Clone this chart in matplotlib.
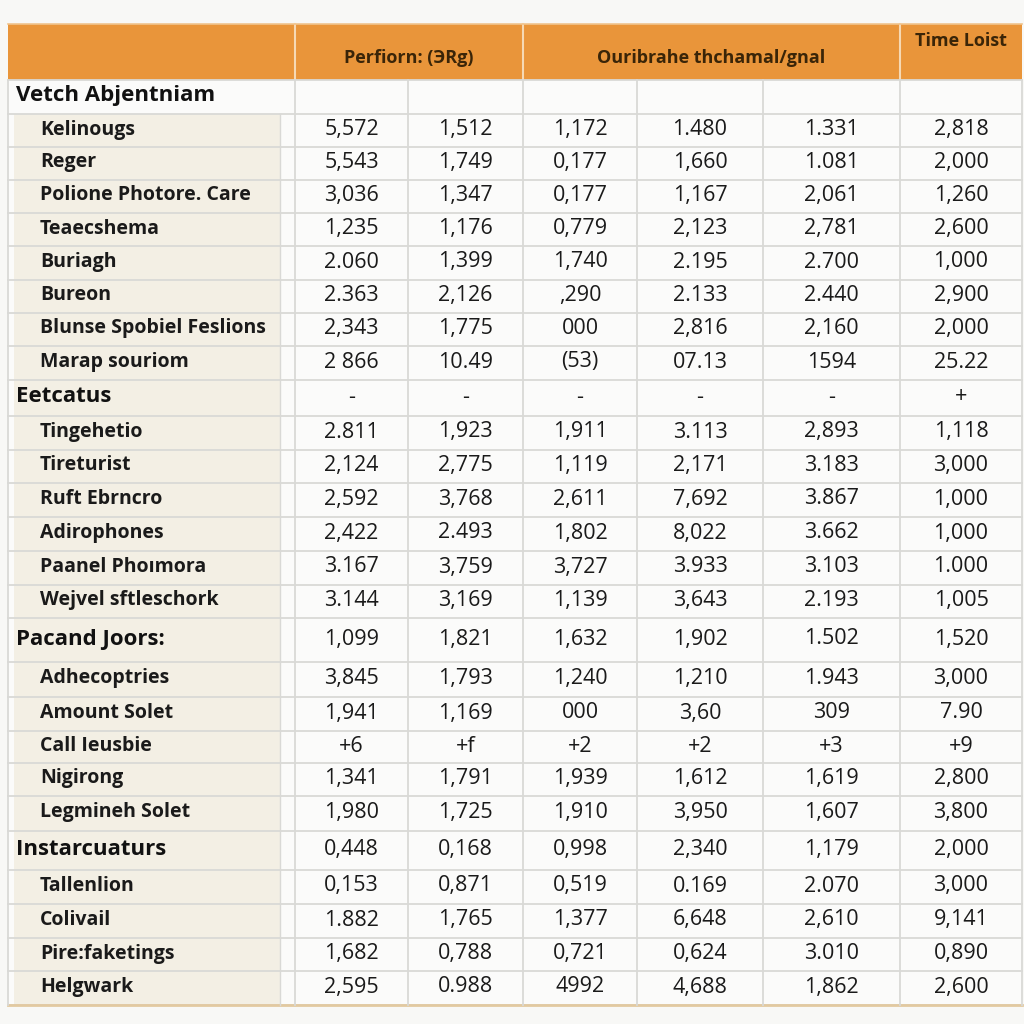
import matplotlib.pyplot as plt
from matplotlib.patches import Rectangle

# header groups
header_labels = ["Perfiorn: (ЭRg)", "Ouribrahe thchamal/gnal", "Time Loist"]

# row labels, True = section heading
row_labels = [
    ("Vetch Abjentniam", True),
    ("Kelinougs", False),
    ("Reger", False),
    ("Polione Photore. Care", False),
    ("Teaecshema", False),
    ("Buriagh", False),
    ("Bureon", False),
    ("Blunse Spobiel Feslions", False),
    ("Marap souriom", False),
    ("Eetcatus", True),
    ("Tingehetio", False),
    ("Tireturist", False),
    ("Ruft Ebrncro", False),
    ("Adirophones", False),
    ("Paanel Phoımora", False),
    ("Wejvel sftleschork", False),
    ("Pacand Joors:", True),
    ("Adhecoptries", False),
    ("Amount Solet", False),
    ("Call Ieusbie", False),
    ("Nigirong", False),
    ("Legmineh Solet", False),
    ("Instarcuaturs", True),
    ("Tallenlion", False),
    ("Colivail", False),
    ("Pire:faketings", False),
    ("Helgwark", False),
]

# cell values, one list per row
values = [
    ["", "", "", "", "", ""],
    ["5,572", "1,512", "1,172", "1.480", "1.331", "2,818"],
    ["5,543", "1,749", "0,177", "1,660", "1.081", "2,000"],
    ["3,036", "1,347", "0,177", "1,167", "2,061", "1,260"],
    ["1,235", "1,176", "0,779", "2,123", "2,781", "2,600"],
    ["2.060", "1,399", "1,740", "2.195", "2.700", "1,000"],
    ["2.363", "2,126", ",290", "2.133", "2.440", "2,900"],
    ["2,343", "1,775", "000", "2,816", "2,160", "2,000"],
    ["2 866", "10.49", "(53)", "07.13", "1594", "25.22"],
    ["-", "-", "-", "-", "-", "+"],
    ["2.811", "1,923", "1,911", "3.113", "2,893", "1,118"],
    ["2,124", "2,775", "1,119", "2,171", "3.183", "3,000"],
    ["2,592", "3,768", "2,611", "7,692", "3.867", "1,000"],
    ["2,422", "2.493", "1,802", "8,022", "3.662", "1,000"],
    ["3.167", "3,759", "3,727", "3.933", "3.103", "1.000"],
    ["3.144", "3,169", "1,139", "3,643", "2.193", "1,005"],
    ["1,099", "1,821", "1,632", "1,902", "1.502", "1,520"],
    ["3,845", "1,793", "1,240", "1,210", "1.943", "3,000"],
    ["1,941", "1,169", "000", "3,60", "309", "7.90"],
    ["+6", "+f", "+2", "+2", "+3", "+9"],
    ["1,341", "1,791", "1,939", "1,612", "1,619", "2,800"],
    ["1,980", "1,725", "1,910", "3,950", "1,607", "3,800"],
    ["0,448", "0,168", "0,998", "2,340", "1,179", "2,000"],
    ["0,153", "0,871", "0,519", "0.169", "2.070", "3,000"],
    ["1.882", "1,765", "1,377", "6,648", "2,610", "9,141"],
    ["1,682", "0,788", "0,721", "0,624", "3.010", "0,890"],
    ["2,595", "0.988", "4992", "4,688", "1,862", "2,600"],
]

# layout (pixels)
col_edges = [8, 295, 408, 523, 637, 763, 900, 1022]
header_spans = [(295, 523), (523, 900), (900, 1022)]
row_edges = [80, 114, 147, 180, 213, 246, 280, 313, 346, 380, 416, 450, 483,
             517, 551, 585, 618, 662, 697, 731, 763, 796, 831, 870, 904, 938,
             971, 1005]
header_top = 24

orange = "#e9953a"
beige = "#f3efe4"
grid = "#d9d9d6"

plt.rcParams['font.family'] = ['Open Sans', 'DejaVu Sans']

fig = plt.figure(figsize=(10.24, 10.24), dpi=100, facecolor="#f8f8f6")
ax = fig.add_axes([0, 0, 1, 1])
ax.set_xlim(0, 1024)
ax.set_ylim(1024, 0)
ax.axis("off")

# table background
ax.add_patch(Rectangle((col_edges[0], row_edges[0]), col_edges[-1] - col_edges[0],
                       row_edges[-1] - row_edges[0], facecolor="#fbfbfa", edgecolor="none"))

# header band
ax.add_patch(Rectangle((col_edges[0], header_top), col_edges[-1] - col_edges[0],
                       row_edges[0] - header_top, facecolor=orange, edgecolor="none"))
for x0, x1 in header_spans:
    ax.plot([x0, x0], [header_top, row_edges[0]], color="#f6d9b4", lw=1.5)
ax.plot([col_edges[0], col_edges[-1]], [header_top, header_top], color="#f0c48e", lw=1.2)
for (x0, x1), lab in zip(header_spans, header_labels):
    y = header_top + 17 if lab == "Time Loist" else header_top + 34
    ax.text((x0 + x1) / 2, y, lab, ha="center", va="center",
            fontsize=13, fontweight="bold", color="#3a2508")

# rows
for i, ((lab, heading), vals) in enumerate(zip(row_labels, values)):
    y0, y1 = row_edges[i], row_edges[i + 1]
    yc = (y0 + y1) / 2
    if i > 0:
        ax.add_patch(Rectangle((col_edges[0] + 6, y0), 280 - col_edges[0] - 6, y1 - y0,
                               facecolor=beige, edgecolor="none"))
    if heading:
        ax.text(16, yc - 1, lab, ha="left", va="center", fontsize=16,
                fontweight="bold", color="#111111")
    else:
        ax.text(40, yc - 1, lab, ha="left", va="center", fontsize=14,
                fontweight="bold", color="#1a1a1a")
    for j, v in enumerate(vals):
        xc = (col_edges[j + 1] + col_edges[j + 2]) / 2
        ax.text(xc, yc - 1, v, ha="center", va="center", fontsize=15.5,
                color="#1a1a1a")

# horizontal grid lines
for y in row_edges:
    ax.plot([col_edges[0], col_edges[-1]], [y, y], color=grid, lw=1.3)
ax.plot([col_edges[0], col_edges[-1]], [row_edges[-1], row_edges[-1]],
        color="#e2c9a0", lw=2)

# vertical grid lines
for x in col_edges:
    ax.plot([x, x], [row_edges[0], row_edges[-1]], color=grid, lw=1.3)
ax.plot([280, 280], [row_edges[1], row_edges[-1]], color=grid, lw=1.0)

fig.savefig("out.png", dpi=100, facecolor=fig.get_facecolor())
